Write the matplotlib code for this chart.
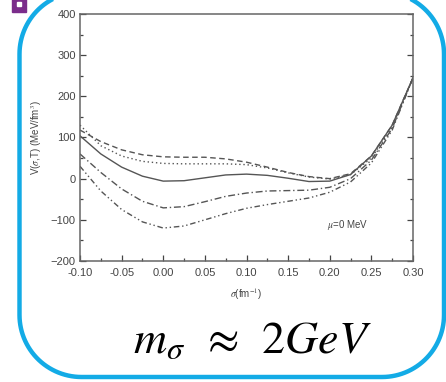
import numpy as np
import matplotlib.pyplot as plt
from matplotlib.patches import Rectangle
from matplotlib.ticker import MultipleLocator

# sigma (fm^-1) grid and potential curves V(sigma, T) in MeV/fm^3
sigma = [-0.100, -0.075, -0.050, -0.025, 0.000, 0.025, 0.050, 0.075, 0.100,
         0.125, 0.150, 0.175, 0.200, 0.225, 0.250, 0.275, 0.300]
v_solid = [104, 60, 28, 6, -6, -5, 2, 9, 11, 8, 1, -7, -6, 10, 55, 130, 245]
v_dash = [118, 90, 70, 58, 53, 52, 52, 48, 40, 28, 15, 5, 0, 12, 55, 130, 245]
v_dot = [130, 80, 55, 42, 37, 36, 36, 36, 34, 26, 14, 4, -1, 10, 50, 125, 245]
v_dashdot = [60, 15, -25, -55, -71, -68, -56, -43, -35, -30, -29, -28, -21, 0, 45, 122, 245]
v_dashdotdot = [30, -30, -75, -105, -120, -115, -100, -85, -72, -63, -55, -47, -33, -8, 38, 118, 245]

xticks = [-0.10, -0.05, 0.00, 0.05, 0.10, 0.15, 0.20, 0.25, 0.30]
yticks = [-200, -100, 0, 100, 200, 300, 400]

plt.rcParams['font.family'] = ['Liberation Sans', 'DejaVu Sans']
plt.rcParams['mathtext.fontset'] = 'stix'

fig = plt.figure(figsize=(4.46, 3.82), dpi=100)

# overlay in pixel units for the rounded frame
bg = fig.add_axes([0, 0, 1, 1])
bg.set_xlim(0, 446)
bg.set_ylim(382, 0)
bg.axis('off')

# rounded frame, open at the top (its top edge lies above the picture)
x0, x1, y0, y1, R = 19.5, 444, -8, 377, 62
t = np.linspace(0, np.pi / 2, 30)
fx = np.concatenate([x0 + R - R * np.sin(t), x0 + R - R * np.cos(t),
                     x1 - R + R * np.sin(t), x1 - R + R * np.cos(t)])
fy = np.concatenate([y0 + R - R * np.cos(t), y1 - R + R * np.sin(t),
                     y1 - R + R * np.cos(t), y0 + R - R * np.sin(t)])
bg.plot(fx, fy, color='#13ABE6', lw=3.2, solid_capstyle='butt', clip_on=False)

bg.add_patch(Rectangle((12, -2), 14, 14, color='#7B2D8B'))
bg.add_patch(Rectangle((17, 2), 4, 4, color='white'))
bg.text(252, 353, r'$m_{\sigma}\,\ \approx\ \,2GeV$', fontsize=33, ha='center',
        va='baseline', color='black')

ax = fig.add_axes([0.1794, 0.3168, 0.7466, 0.6466])

gray = '#555555'
ax.plot(sigma, v_solid, color=gray, lw=1.0, ls='-')
ax.plot(sigma, v_dash, color=gray, lw=1.0, ls=(0, (4, 2.5)))
ax.plot(sigma, v_dot, color=gray, lw=1.0, ls=(0, (1, 2)))
ax.plot(sigma, v_dashdot, color=gray, lw=1.0, ls=(0, (5, 2, 1, 2)))
ax.plot(sigma, v_dashdotdot, color=gray, lw=1.0, ls=(0, (4, 2, 1, 2, 1, 2)))

ax.set_xlim(-0.10, 0.30)
ax.set_ylim(-200, 400)
ax.set_xticks(xticks)
ax.set_xticklabels(['%.2f' % t for t in xticks])
ax.set_yticks(yticks)
ax.xaxis.set_minor_locator(MultipleLocator(0.025))
ax.yaxis.set_minor_locator(MultipleLocator(50))
ax.tick_params(which='both', direction='in', right=True, top=False,
               labelsize=8, colors='#444444')
ax.tick_params(axis='x', pad=5)
ax.tick_params(axis='y', pad=3)
ax.tick_params(which='major', length=4, width=0.9)
ax.tick_params(which='minor', length=2.5, width=0.9)
for s in ax.spines.values():
    s.set_color('#666666')
    s.set_linewidth(1.1)

ax.set_xlabel(r'$\sigma$(fm$^{-1}$)', fontsize=7, color='#444444', labelpad=6)
ax.set_ylabel(r'V($\sigma$,T) (MeV/fm$^{3}$)', fontsize=7, color='#444444', labelpad=5)
ax.text(0.197, -112, r'$\mu$=0 MeV', fontsize=7, color='#444444', va='center')

fig.savefig('out.png', dpi=100)
